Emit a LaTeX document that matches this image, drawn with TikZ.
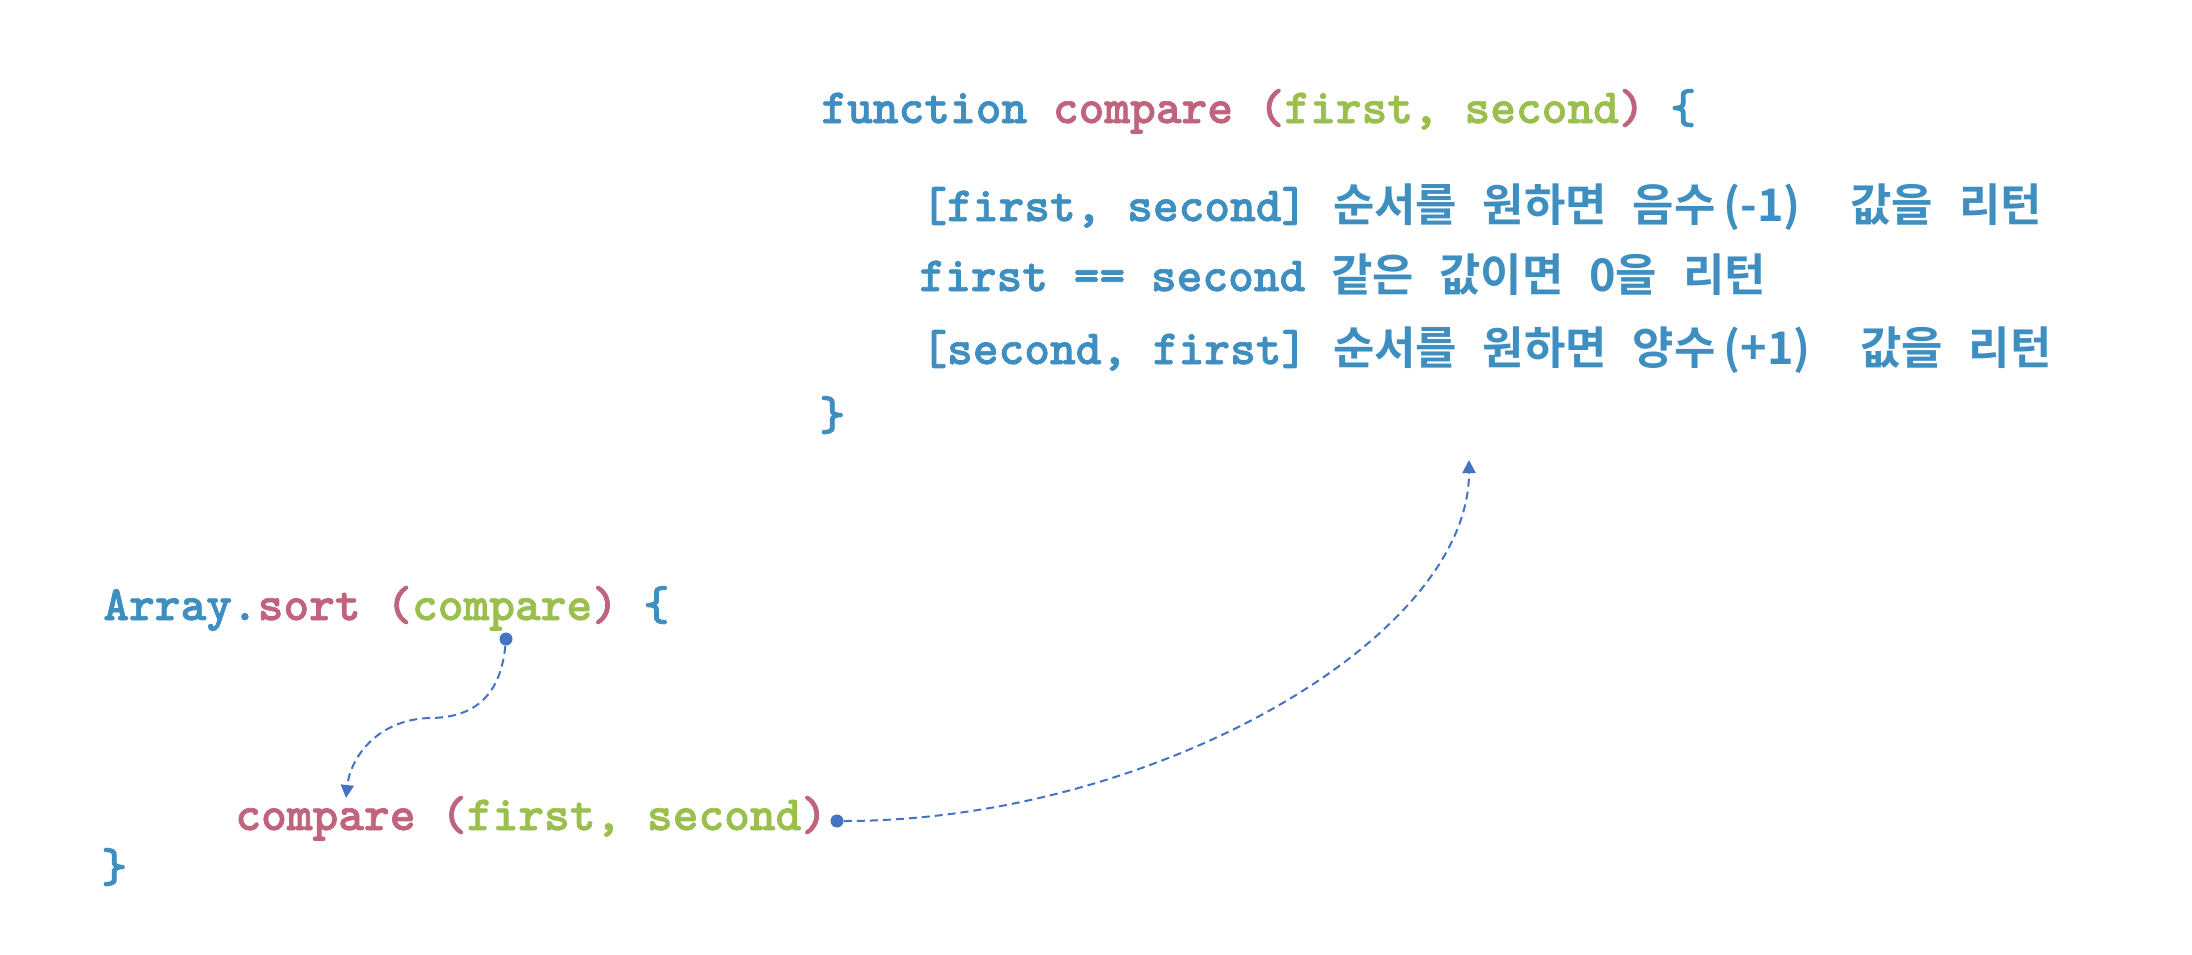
\documentclass[tikz,border=0pt]{standalone}
\usepackage{fontspec}
\newfontfamily\krfont{Noto Sans CJK KR}[BoldFont={Noto Sans CJK KR Bold}]
\newfontfamily\codefont{lmmonolt10-bold.otf}[FakeBold=1.5]
\usetikzlibrary{arrows.meta,positioning}
\definecolor{kwblue}{HTML}{3E8EC0}
\definecolor{fnpink}{HTML}{C0637D}
\definecolor{arggreen}{HTML}{9BBF4E}
\definecolor{linkblue}{HTML}{4472C4}
\newcommand\kr[1]{{\krfont\bfseries\fontsize{22.5}{26}\selectfont #1}}
\newcommand\kb[1]{\textcolor{kwblue}{#1}}
\newcommand\kp[1]{\textcolor{fnpink}{#1}}
\newcommand\kg[1]{\textcolor{arggreen}{#1}}

\begin{document}
\begin{tikzpicture}[x=0.5pt, y=-0.5pt,
      code/.style = {anchor=base west, inner sep=0pt, text=kwblue,
                     font=\codefont\fontsize{24.5}{30}\selectfont},
       pin/.style = {circle, fill=linkblue, inner sep=0pt, minimum size=6.5pt},
       arr/.style = {linkblue, line width=1pt, dash pattern=on 4pt off 2.5pt,
                     -{Triangle[length=6.5pt, width=6.5pt]}},
                    ]
    \useasboundingbox (0,0) rectangle (2192,954);
    %% function definition
    \node[code] (fn)  at (821,123)
        {function \kp{compare (}\kg{first, second}\kp{)} \{};
    \node[code] (neg) at (921,221)
        {[first, second] \kr{순서를} \kr{원하면} \kr{음수}\hspace{4pt}\kr{(-1)}\hspace{12pt}
         \kr{값을} \kr{리턴}};
    \node[code] (eq)  at (919,291)
        {first == second \kr{같은} \kr{값이면} \kr{0을} \kr{리턴}};
    \node[code] (pos) at (921,364)
        {[second, first] \kr{순서를} \kr{원하면} \kr{양수}\hspace{4pt}\kr{(+1)}\hspace{12pt}
         \kr{값을} \kr{리턴}};
    \node[code] (fnend) at (819,430) {\}};
    %% sort call
    \node[code] (sort) at (103,620)
        {Array.\kp{sort (}\kg{compare}\kp{)} \{};
    \node[code] (call) at (235,830)
        {\kp{compare (}\kg{first, second}\kp{)}};
    \node[code] (sortend) at (101,882) {\}};
    %% links
    \node[pin] (p1) at (506,639) {};
    \node[pin] (p2) at (837,821) {};
    \coordinate (t1) at (346,798);
    \coordinate (t2) at (1469,460);
    \draw[arr] (p1) .. controls (500,700) and (470,718) .. (429,718)
                    .. controls (375,720) and (350,760) .. (t1);
    \draw[arr] (p2) .. controls (1150,821) and (1469,640) .. (t2);
\end{tikzpicture}
\end{document}
